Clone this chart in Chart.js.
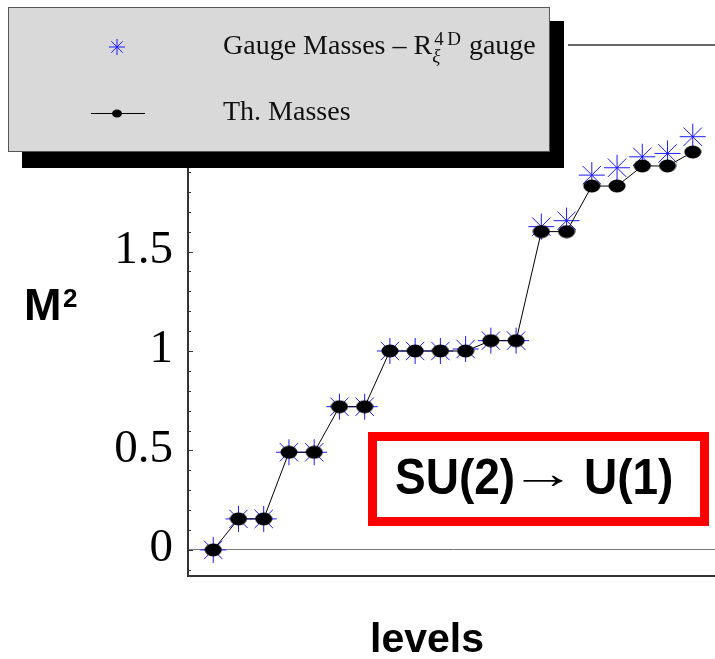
<!DOCTYPE html>
<html>
<head>
<meta charset="utf-8">
<title>SU(2) → U(1) levels</title>
<script src="https://cdn.jsdelivr.net/npm/chart.js@4.4.0/dist/chart.umd.min.js"></script>
<style>
  html, body { margin: 0; padding: 0; background: #fff; overflow: hidden; }
  #wrap { position: relative; width: 715px; height: 659px; overflow: hidden; }
  canvas { position: absolute; left: 0; top: 0; }
</style>
</head>
<body>
<div id="wrap"><canvas id="levelsChart" width="720" height="659"></canvas></div>
<script>
// level index and squared masses
const levels = [1, 2, 3, 4, 5, 6, 7, 8, 9, 10, 11, 12, 13, 14, 15, 16, 17, 18, 19, 20];
const thMasses = [0, 0.156, 0.156, 0.491, 0.491, 0.72, 0.72, 1.0, 1.0, 1.0, 1.0, 1.052, 1.052, 1.6, 1.6, 1.829, 1.829, 1.93, 1.93, 2.0];
const gaugeMasses = [0, 0.156, 0.156, 0.491, 0.491, 0.72, 0.72, 1.0, 1.0, 1.0, 1.01, 1.052, 1.052, 1.625, 1.655, 1.884, 1.921, 1.976, 1.993, 2.077];
const yTickValues = [0, 0.5, 1, 1.5, 2, 2.5];

const legendLabels = ['Gauge Masses – R', 'Th. Masses'];
const boxText = ['SU(2)', '→', 'U(1)'];

const SERIF = '"Liberation Serif", "DejaVu Serif", serif';
const SANS = '"Liberation Sans", Arial, sans-serif';

// filled ellipse used as marker for the theoretical masses
function makeDot(w, h) {
    const c = document.createElement('canvas');
    c.width = w;
    c.height = h;
    const g = c.getContext('2d');
    g.fillStyle = '#000';
    g.beginPath();
    g.ellipse(w / 2, h / 2, w / 2 - 0.5, h / 2 - 0.5, 0, 0, Math.PI * 2);
    g.fill();
    return c;
}
const bigDot = makeDot(18, 14);

function drawStar(ctx, x, y, r, color) {
    const d = r * Math.cos(Math.PI / 4);
    ctx.save();
    ctx.strokeStyle = color;
    ctx.lineWidth = 1;
    ctx.beginPath();
    ctx.moveTo(x - r, y); ctx.lineTo(x + r, y);
    ctx.moveTo(x, y - r); ctx.lineTo(x, y + r);
    ctx.moveTo(x - d, y - d); ctx.lineTo(x + d, y + d);
    ctx.moveTo(x - d, y + d); ctx.lineTo(x + d, y - d);
    ctx.stroke();
    ctx.restore();
}

// text drawn slightly taller than the font's natural proportions
function tallText(ctx, text, x, y, sy) {
    ctx.save();
    ctx.translate(x, y);
    ctx.scale(1, sy);
    ctx.fillText(text, 0, 0);
    ctx.restore();
}

// inward tick marks, frame top, titles, the legend box and the label box
const decorations = {
    id: 'decorations',
    afterDraw(chart) {
        const ctx = chart.ctx;
        const area = chart.chartArea;
        const y = chart.scales.y;

        ctx.save();
        // y ticks pointing into the plot
        ctx.strokeStyle = '#333';
        ctx.lineWidth = 1;
        for (let i = -1; i <= 25; i++) {
            const v = i / 10;
            const py = Math.round(y.getPixelForValue(v)) + 0.5;
            const len = i % 5 === 0 ? 5 : 3;
            ctx.beginPath();
            ctx.moveTo(area.left, py);
            ctx.lineTo(area.left + len, py);
            ctx.stroke();
        }

        // top frame line
        ctx.lineWidth = 1.5;
        ctx.beginPath();
        ctx.moveTo(568, area.top);
        ctx.lineTo(area.right, area.top);
        ctx.stroke();

        // axis titles
        ctx.fillStyle = '#000';
        ctx.textBaseline = 'alphabetic';
        ctx.textAlign = 'left';
        ctx.font = 'bold 45px ' + SANS;
        ctx.fillText('M', 24, 320);
        ctx.font = 'bold 26px ' + SANS;
        ctx.fillText('2', 63, 307);
        ctx.textAlign = 'center';
        ctx.font = 'bold 41px ' + SANS;
        ctx.fillText('levels', 427, 652);

        // red label box
        ctx.strokeStyle = '#ff0000';
        ctx.lineWidth = 9;
        ctx.strokeRect(372.5, 436.5, 332, 85);
        ctx.textAlign = 'left';
        ctx.font = 'bold 46px ' + SANS;
        tallText(ctx, boxText[0], 395, 494, 1.08);
        tallText(ctx, boxText[2], 584, 494, 1.08);
        ctx.font = '44px ' + SERIF;
        const aw = ctx.measureText(boxText[1]).width;
        ctx.save();
        ctx.translate(510, 488);
        ctx.scale(66 / aw, 1);
        ctx.fillText(boxText[1], 0, 0);
        ctx.restore();

        // legend: shadow, box, markers, text
        ctx.fillStyle = '#000';
        ctx.fillRect(22, 21, 542, 147);
        ctx.fillStyle = '#d9d9d9';
        ctx.fillRect(8, 7, 542, 145);
        ctx.strokeStyle = '#555';
        ctx.lineWidth = 1;
        ctx.strokeRect(8.5, 7.5, 541, 144);

        drawStar(ctx, 117, 47, 8, '#1a1aff');
        ctx.strokeStyle = '#000';
        ctx.beginPath();
        ctx.moveTo(91, 113.5);
        ctx.lineTo(145, 113.5);
        ctx.stroke();
        ctx.fillStyle = '#000';
        ctx.beginPath();
        ctx.ellipse(117, 113.5, 5, 4, 0, 0, Math.PI * 2);
        ctx.fill();

        ctx.fillStyle = '#111';
        ctx.font = '28px ' + SERIF;
        ctx.fillText(legendLabels[0], 223, 54);
        let x = 223 + ctx.measureText(legendLabels[0]).width;
        ctx.font = 'italic 19px ' + SERIF;
        ctx.fillText('ξ', x, 62);
        ctx.font = '19px ' + SERIF;
        ctx.fillText('4', x + 2, 45);
        ctx.fillText('D', x + 15, 45);
        x = x + 15 + ctx.measureText('D').width;
        ctx.font = '28px ' + SERIF;
        ctx.fillText(' gauge', x + 1, 54);
        ctx.fillText(legendLabels[1], 223, 120);
        ctx.restore();
    }
};

new Chart(document.getElementById('levelsChart'), {
    type: 'scatter',
    data: {
        datasets: [
            {
                label: 'Th. Masses',
                data: levels.map((l, i) => ({ x: l, y: thMasses[i] })),
                showLine: true,
                borderColor: '#000',
                borderWidth: 1,
                pointStyle: bigDot,
                pointRadius: 8,
                order: 0
            },
            {
                label: 'Gauge Masses',
                data: levels.map((l, i) => ({ x: l, y: gaugeMasses[i] })),
                showLine: false,
                pointStyle: 'star',
                pointRadius: 13,
                pointBorderColor: '#1a1aff',
                pointBackgroundColor: '#1a1aff',
                pointBorderWidth: 1,
                order: 1
            }
        ]
    },
    options: {
        responsive: false,
        devicePixelRatio: 1,
        animation: false,
        layout: { autoPadding: false, padding: { top: 45, right: 2, left: 0, bottom: 0 } },
        plugins: {
            legend: { display: false },
            tooltip: { enabled: false }
        },
        scales: {
            x: {
                type: 'linear',
                min: 0,
                max: 21,
                ticks: { display: false },
                grid: { display: false, drawTicks: false },
                border: { display: true, color: '#333', width: 2 },
                afterFit(scale) { scale.height = 83; }
            },
            y: {
                min: -0.131,
                max: 2.538,
                afterBuildTicks(scale) {
                    scale.ticks = yTickValues.map(v => ({ value: v }));
                },
                ticks: {
                    padding: 15,
                    color: '#000',
                    font: { family: SERIF, size: 47 },
                    labelOffset: -1,
                    callback: v => String(Math.round(v * 10) / 10)
                },
                grid: {
                    drawTicks: false,
                    color: c => (c.tick && c.tick.value === 0) ? '#777' : 'rgba(0,0,0,0)',
                    lineWidth: 1
                },
                border: { display: true, color: '#333', width: 2 },
                afterFit(scale) { scale.width = 188; }
            }
        }
    },
    plugins: [decorations]
});
</script>
</body>
</html>
